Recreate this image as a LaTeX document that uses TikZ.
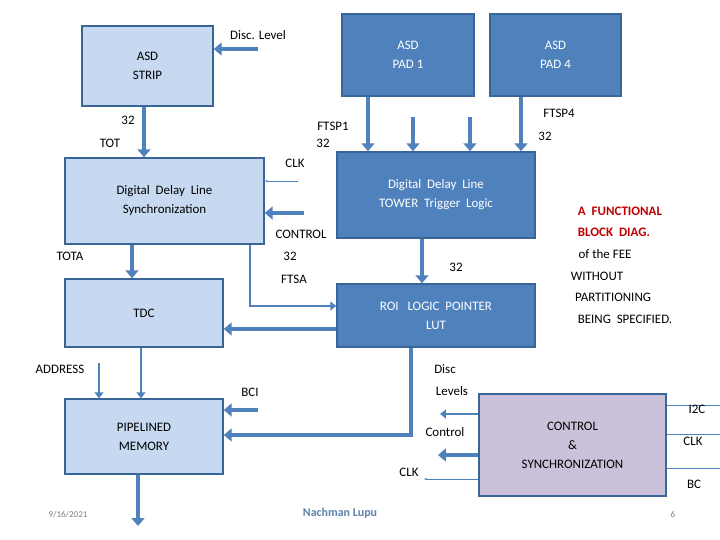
\documentclass[tikz,border=0pt]{standalone}
\usepackage{fontspec}
\setmainfont{Carlito}
\usetikzlibrary{arrows.meta}
\definecolor{lb}{HTML}{C6D9F1}
\definecolor{db}{HTML}{4F81BD}
\definecolor{bd}{HTML}{3A6597}
\definecolor{lav}{HTML}{CCC1DA}
\definecolor{fred}{HTML}{C00000}
\begin{document}
\begin{tikzpicture}[x=1bp,y=-1bp,font=\fontsize{13}{15}\selectfont,
  lbox/.style={draw=bd,line width=1.5pt,fill=lb,align=center,inner sep=0},
  dbox/.style={draw=bd,line width=1.5pt,fill=db,text=white,align=center,inner sep=0},
  fat/.style={draw=db,line width=4.5pt,-{Triangle[length=8pt,width=13pt]}},
  mid/.style={draw=db,line width=3pt,-{Triangle[length=6pt,width=9pt]}},
  thin/.style={draw=db,line width=1pt,-{Stealth[length=3pt]}},
  lab/.style={inner sep=1pt}]
\useasboundingbox (0,0) rectangle (720,540);
\fill[white] (0,0) rectangle (720,540);
% boxes
\node[lbox,minimum width=131bp,minimum height=80bp] (strip) at (147.5,66) {ASD\\[4pt]STRIP};
\node[dbox,minimum width=132bp,minimum height=82bp] (pad1) at (408,55) {ASD\\[4pt]PAD 1};
\node[dbox,minimum width=131bp,minimum height=82bp] (pad4) at (555.5,55) {ASD\\[4pt]PAD 4};
\node[lbox,minimum width=199bp,minimum height=86bp] (sync) at (164.5,201) {Digital\ \ Delay\ \ Line\\[4pt]Synchronization};
\node[dbox,minimum width=198bp,minimum height=86bp] (tower) at (436,195) {Digital\ \ Delay\ \ Line\\[4pt]TOWER\ \ Trigger\ \ Logic};
\node[lbox,minimum width=158bp,minimum height=68bp] (tdc) at (144,313) {TDC};
\node[dbox,minimum width=198bp,minimum height=63bp] (roi) at (436,315.5) {ROI\ \ \ LOGIC\ \ POINTER\\[4pt]LUT};
\node[lbox,minimum width=158bp,minimum height=75bp] (pipe) at (144,436.5) {PIPELINED\\[4pt]MEMORY};
\node[draw=bd,line width=1.5pt,fill=lav,align=center,inner sep=0,minimum width=187bp,minimum height=102bp] (cs) at (572.5,445) {CONTROL\\[4pt]\&\\[4pt]SYNCHRONIZATION};
% coordinates
\coordinate (dl) at (258,49);
\coordinate (s1) at (413,117);
\coordinate (s2) at (470,117);
\coordinate (clk1) at (298,181);
\coordinate (ctl1) at (304,213);
\coordinate (fa) at (250,306);
\coordinate (ad) at (99,363);
\coordinate (bci) at (258,410);
\coordinate (rb) at (411,435);
\coordinate (dlv) at (440,414);
\coordinate (ctl2) at (438,455);
\coordinate (clk2) at (424,479);
\coordinate (out) at (138,526);
% arrows
\draw[fat] (dl) -- (strip.east |- dl);
\draw[fat] (strip.south -| 144,0) -- (sync.north -| 144,0);
\draw[fat] (pad1.south -| 368,0) -- (tower.north -| 368,0);
\draw[fat] (s1) -- (tower.north -| s1);
\draw[fat] (s2) -- (tower.north -| s2);
\draw[fat] (pad4.south -| 521,0) -- (tower.north -| 521,0);
\draw[thin] (clk1) -- (sync.east |- clk1);
\draw[fat] (ctl1) -- (sync.east |- ctl1);
\draw[fat] (tower.south -| 422,0) -- (roi.north -| 422,0);
\draw[mid] (sync.south -| fa) -- (fa) -- (roi.west |- fa);
\draw[fat] (roi.west |- 0,329) -- (tdc.east |- 0,329);
\draw[fat] (sync.south -| 132,0) -- (tdc.north -| 132,0);
\draw[mid] (tdc.south -| 141,0) -- (pipe.north -| 141,0);
\draw[mid] (ad) -- (pipe.north -| ad);
\draw[fat] (bci) -- (pipe.east |- bci);
\draw[fat] (roi.south -| rb) -- (rb) -- (pipe.east |- rb);
\draw[mid] (cs.west |- dlv) -- (dlv);
\draw[fat] (cs.west |- ctl2) -- (ctl2);
\draw[thin] (cs.west |- clk2) -- (clk2);
\draw[fat] (pipe.south -| out) -- (out);
\coordinate (r1) at (720,405); \coordinate (r2) at (720,434); \coordinate (r3) at (720,468);
\draw[db,line width=1pt] (cs.east |- r1) -- (r1);
\draw[db,line width=1pt] (cs.east |- r2) -- (r2);
\draw[db,line width=1pt] (cs.east |- r3) -- (r3);
% labels
\node[lab] (t1) at (258,35) {Disc. Level};
\node[lab] (t2) at (128,120) {32};
\node[lab] (t3) at (110,143) {TOT};
\node[lab] (t4) at (333,126) {FTSP1};
\node[lab] (t5) at (323,143) {32};
\node[lab] (t6) at (559,113) {FTSP4};
\node[lab] (t7) at (545,136) {32};
\node[lab] (t8) at (295,163) {CLK};
\node[lab] (t9) at (301,234) {CONTROL};
\node[lab] (t10) at (290,256) {32};
\node[lab] (t11) at (294,279) {FTSA};
\node[lab] (t12) at (456,267) {32};
\node[lab] (t13) at (70,256) {TOTA};
\node[lab] (t14) at (60,369) {ADDRESS};
\node[lab] (t15) at (250,392) {BCI};
\node[lab] (t16) at (445,369) {Disc};
\node[lab] (t17) at (452,391) {Levels};
\node[lab] (t18) at (445,432) {Control};
\node[lab] (t19) at (409,472) {CLK};
\node[lab] (t20) at (697,409) {I2C};
\node[lab] (t21) at (693,441) {CLK};
\node[lab] (t22) at (694,484) {BC};
\node[lab,text=fred,font=\fontsize{13}{15}\selectfont\bfseries] (r1t) at (620,211) {A\ \ FUNCTIONAL};
\node[lab,text=fred,font=\fontsize{13}{15}\selectfont\bfseries] (r2t) at (614,232) {BLOCK\ \ DIAG.};
\node[lab] (r3t) at (605,254) {of\ the FEE};
\node[lab] (r4t) at (597,276) {WITHOUT};
\node[lab] (r5t) at (613,297) {PARTITIONING};
\node[lab] (r6t) at (625,319) {BEING\ \ SPECIFIED.};
\node[lab,text=gray,font=\fontsize{9}{11}\selectfont] (f1) at (68,515) {9/16/2021};
\node[lab,text=db!70!gray,font=\fontsize{12}{14}\selectfont\bfseries] (f2) at (340,513) {Nachman Lupu};
\node[lab,text=gray,font=\fontsize{9}{11}\selectfont] (f3) at (673,515) {6};
\end{tikzpicture}
\end{document}
